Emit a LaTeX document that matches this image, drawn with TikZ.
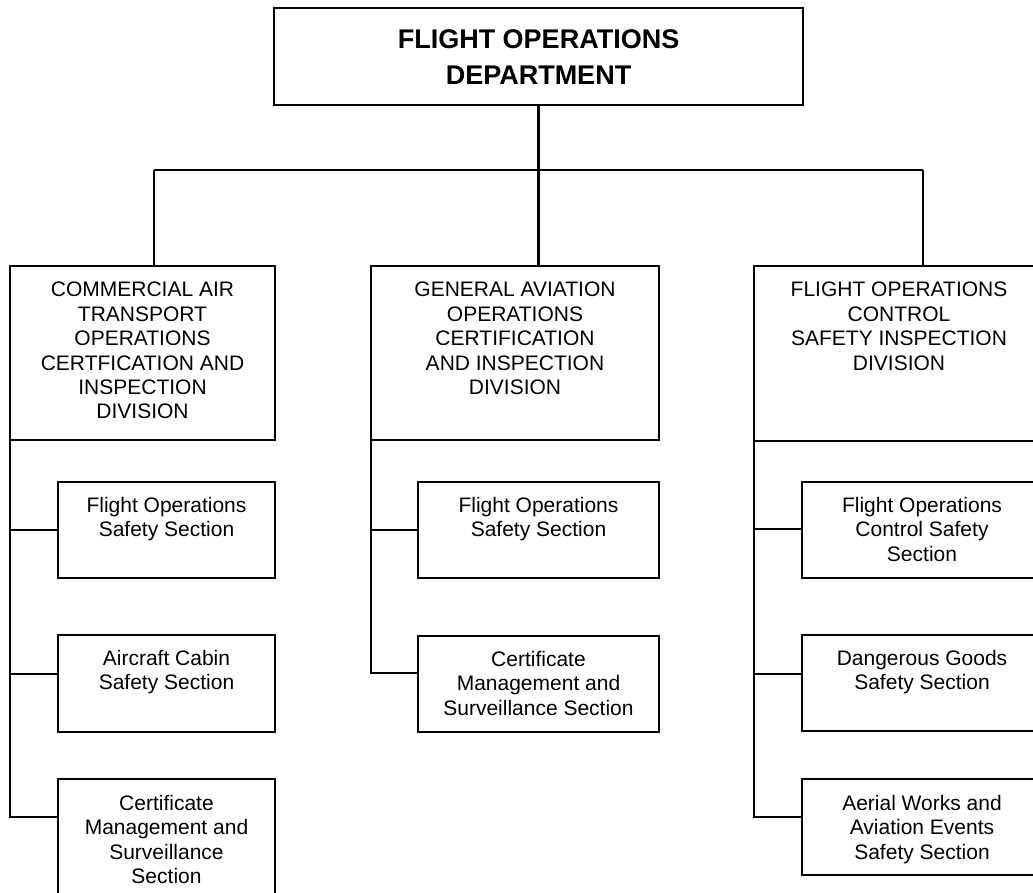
\documentclass[tikz,border=0pt]{standalone}
\usepackage{fontspec}
\setmainfont{Liberation Sans}
\begin{document}
\begin{tikzpicture}[x=1pt,y=-1pt,
  box/.style={draw=black, line width=2pt, inner sep=0pt, outer sep=0pt},
  lbl/.style={anchor=north, align=center, inner sep=0pt, font=\fontsize{21}{24.4}\selectfont},
  head/.style={anchor=north, align=center, inner sep=0pt, font=\bfseries\fontsize{27}{36}\selectfont},
  wire/.style={draw=black, line width=2.3pt}]
\useasboundingbox (0,0) rectangle (1033,892);
\clip (0,0) rectangle (1033,892);

% department
\node[box, minimum width=529pt, minimum height=97pt] (dept) at (538.5,56.5) {};
\node[head, yshift=-21pt] (deptT) at (dept.north) {FLIGHT OPERATIONS\\DEPARTMENT};

% divisions
\node[box, minimum width=265pt, minimum height=174pt] (left) at (142.5,353) {};
\node[lbl, yshift=-16pt] (leftT) at (left.north) {COMMERCIAL AIR\\TRANSPORT\\OPERATIONS\\CERTFICATION AND\\INSPECTION\\DIVISION};
\node[box, minimum width=288pt, minimum height=174pt] (mid) at (515,353) {};
\node[lbl, yshift=-16pt] (midT) at (mid.north) {GENERAL AVIATION\\OPERATIONS\\CERTIFICATION\\AND INSPECTION\\DIVISION};
\node[box, minimum width=290pt, minimum height=175pt] (right) at (899,353.5) {};
\node[lbl, yshift=-16pt] (rightT) at (right.north) {FLIGHT OPERATIONS\\CONTROL\\SAFETY INSPECTION\\DIVISION};

% sections, left column
\node[box, minimum width=217pt, minimum height=96pt] (ls1) at (166.5,530) {};
\node[lbl, yshift=-15pt] (ls1T) at (ls1.north) {Flight Operations\\Safety Section};
\node[box, minimum width=217pt, minimum height=97pt] (ls2) at (166.5,683.5) {};
\node[lbl, yshift=-15pt] (ls2T) at (ls2.north) {Aircraft Cabin\\Safety Section};
\node[box, minimum width=217pt, minimum height=118pt] (ls3) at (166.5,838) {};
\node[lbl, yshift=-16pt] (ls3T) at (ls3.north) {Certificate\\Management and\\Surveillance\\Section};

% sections, middle column
\node[box, minimum width=241pt, minimum height=96pt] (ms1) at (538.5,530) {};
\node[lbl, yshift=-15pt] (ms1T) at (ms1.north) {Flight Operations\\Safety Section};
\node[box, minimum width=241pt, minimum height=96pt] (ms2) at (538.5,684) {};
\node[lbl, yshift=-15pt] (ms2T) at (ms2.north) {Certificate\\Management and\\Surveillance Section};

% sections, right column
\node[box, minimum width=240pt, minimum height=96pt] (rs1) at (922,530) {};
\node[lbl, yshift=-15pt] (rs1T) at (rs1.north) {Flight Operations\\Control Safety\\Section};
\node[box, minimum width=240pt, minimum height=96pt] (rs2) at (922,683) {};
\node[lbl, yshift=-15pt] (rs2T) at (rs2.north) {Dangerous Goods\\Safety Section};
\node[box, minimum width=240pt, minimum height=96pt] (rs3) at (922,827) {};
\node[lbl, yshift=-16pt] (rs3T) at (rs3.north) {Aerial Works and\\Aviation Events\\Safety Section};

% bus from the department to the divisions
\coordinate (busL) at (154,170);
\coordinate (busR) at (923,170);
\draw[wire] (busL) -- (busR);
\draw[wire] (dept.south) -- (dept.south |- mid.north);
\draw[wire] (busL) -- (busL |- left.north);
\draw[wire] (busR) -- (busR |- right.north);

% branch points on the spines
\coordinate (lb1) at (10,530);
\coordinate (lb2) at (10,674);
\coordinate (lb3) at (10,817);
\coordinate (mb1) at (371,530);
\coordinate (mb2) at (371,673);
\coordinate (rb1) at (754,529);
\coordinate (rb2) at (754,674);
\coordinate (rb3) at (754,817);

% left spine
\draw[wire] (left.south west) -- (lb3) -- (lb3 -| ls3.west);
\draw[wire] (lb1) -- (lb1 -| ls1.west);
\draw[wire] (lb2) -- (lb2 -| ls2.west);

% middle spine
\draw[wire] (mid.south west) -- (mb2) -- (mb2 -| ms2.west);
\draw[wire] (mb1) -- (mb1 -| ms1.west);

% right spine
\draw[wire] (right.south west) -- (rb3) -- (rb3 -| rs3.west);
\draw[wire] (rb1) -- (rb1 -| rs1.west);
\draw[wire] (rb2) -- (rb2 -| rs2.west);
\end{tikzpicture}
\end{document}
